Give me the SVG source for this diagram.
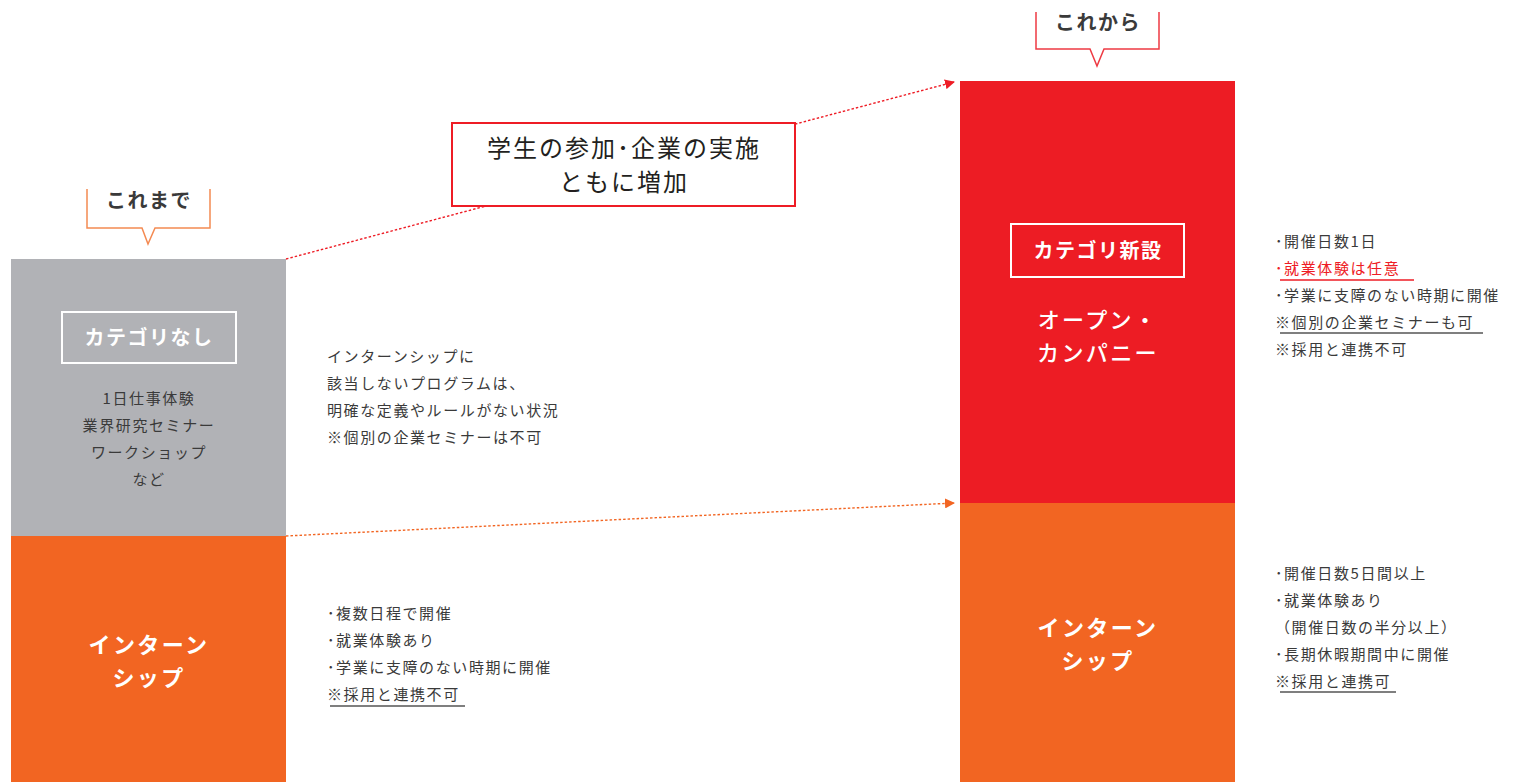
<svg xmlns="http://www.w3.org/2000/svg" width="1519" height="782" viewBox="0 0 1519 782">
<defs>
<style>
text{font-family:"Noto Sans CJK JP","Noto Sans",sans-serif;}
.body{font-size:15px;fill:#3a3a3a;letter-spacing:1.6px;}
.title{font-size:20px;font-weight:700;fill:#3a3a3a;letter-spacing:1.5px;text-anchor:middle;}
.cat{font-size:20px;font-weight:700;fill:#fff;letter-spacing:1.5px;text-anchor:middle;}
.big{font-size:22px;font-weight:700;fill:#fff;text-anchor:middle;letter-spacing:2.4px;}
.mid{font-size:22px;font-weight:500;fill:#fff;text-anchor:middle;letter-spacing:2.4px;}
.ul{stroke:#555;stroke-width:1.5;}
</style>
<marker id="arR" viewBox="0 0 10 10" refX="9" refY="5" markerWidth="10" markerHeight="10" markerUnits="userSpaceOnUse" orient="auto"><path d="M0,0 L10,5 L0,10 Z" fill="#ee1c25"/></marker>
<marker id="arO" viewBox="0 0 10 10" refX="9" refY="5" markerWidth="10" markerHeight="10" markerUnits="userSpaceOnUse" orient="auto"><path d="M0,0 L10,5 L0,10 Z" fill="#f26522"/></marker>
</defs>
<rect width="1519" height="782" fill="#fff"/>

<g id="connectors">
<line x1="286" y1="259" x2="954" y2="82" stroke="#ee1c25" stroke-width="1.4" stroke-dasharray="2.5 2" marker-end="url(#arR)"/>
<line x1="286" y1="536" x2="954" y2="503" stroke="#f26522" stroke-width="1.4" stroke-dasharray="2.5 2" marker-end="url(#arO)"/>
</g>

<g id="callout-before">
<path d="M87,189 V228 H142 L148,244 L155,228 H210 V189" fill="none" stroke="#f48a52" stroke-width="1.5"/>
<text class="title" x="149" y="208">これまで</text>
</g>

<g id="callout-after">
<path d="M1036,12 V49 H1090 L1097,66 L1104,49 H1159 V12" fill="none" stroke="#ee3a43" stroke-width="1.5"/>
<text class="title" x="1098" y="30">これから</text>
</g>

<g id="increase-box">
<rect x="452" y="123" width="343" height="83" fill="#fff" stroke="#ee1c25" stroke-width="2"/>
<text x="624" y="157" font-size="24" fill="#231f20" text-anchor="middle" letter-spacing="2">学生の参加･企業の実施</text>
<text x="624" y="191" font-size="24" fill="#231f20" text-anchor="middle" letter-spacing="2">ともに増加</text>
</g>

<g id="before-none">
<rect x="11" y="259" width="275" height="277" fill="#b1b2b6"/>
<rect x="62" y="312" width="174" height="51" fill="none" stroke="#fff" stroke-width="2"/>
<text class="cat" x="149" y="345">カテゴリなし</text>
<text class="body" x="149" y="404" text-anchor="middle" letter-spacing="0.5">1日仕事体験</text>
<text class="body" x="149" y="431" text-anchor="middle" letter-spacing="0.5">業界研究セミナー</text>
<text class="body" x="149" y="458" text-anchor="middle" letter-spacing="0.5">ワークショップ</text>
<text class="body" x="149" y="485" text-anchor="middle" letter-spacing="0.5">など</text>
</g>

<g id="before-intern">
<rect x="11" y="536" width="275" height="246" fill="#f26522"/>
<text class="big" x="149" y="653">インターン</text>
<text class="big" x="149" y="686">シップ</text>
</g>

<g id="before-none-desc">
<text class="body" x="327" y="362">インターンシップに</text>
<text class="body" x="327" y="389">該当しないプログラムは、</text>
<text class="body" x="327" y="416">明確な定義やルールがない状況</text>
<text class="body" x="327" y="443">※個別の企業セミナーは不可</text>
</g>

<g id="before-intern-desc">
<text class="body" x="327" y="619">･複数日程で開催</text>
<text class="body" x="327" y="646">･就業体験あり</text>
<text class="body" x="327" y="673">･学業に支障のない時期に開催</text>
<text class="body" x="327" y="700">※採用と連携不可</text>
<line class="ul" x1="330" y1="706" x2="465" y2="706"/>
</g>

<g id="after-open">
<rect x="960" y="81" width="275" height="422" fill="#ed1c24"/>
<rect x="1011" y="224" width="173" height="53" fill="none" stroke="#fff" stroke-width="2"/>
<text class="cat" x="1098" y="258">カテゴリ新設</text>
<text class="mid" x="1098" y="328">オープン・</text>
<text class="mid" x="1098" y="361">カンパニー</text>
</g>

<g id="after-intern">
<rect x="960" y="503" width="275" height="279" fill="#f26522"/>
<text class="big" x="1098" y="636">インターン</text>
<text class="big" x="1098" y="669">シップ</text>
</g>

<g id="after-open-desc">
<text class="body" x="1275" y="247">･開催日数1日</text>
<text class="body" x="1275" y="274" style="fill:#ee1c25">･就業体験は任意</text>
<line x1="1280" y1="280" x2="1414" y2="280" stroke="#ee1c25" stroke-width="1.5"/>
<text class="body" x="1275" y="301">･学業に支障のない時期に開催</text>
<text class="body" x="1275" y="328">※個別の企業セミナーも可</text>
<line class="ul" x1="1280" y1="333" x2="1483" y2="333"/>
<text class="body" x="1275" y="355">※採用と連携不可</text>
</g>

<g id="after-intern-desc">
<text class="body" x="1275" y="579">･開催日数5日間以上</text>
<text class="body" x="1275" y="606">･就業体験あり</text>
<text class="body" x="1275" y="633">（開催日数の半分以上）</text>
<text class="body" x="1275" y="660">･長期休暇期間中に開催</text>
<text class="body" x="1275" y="687">※採用と連携可</text>
<line class="ul" x1="1280" y1="692" x2="1396" y2="692"/>
</g>
</svg>
